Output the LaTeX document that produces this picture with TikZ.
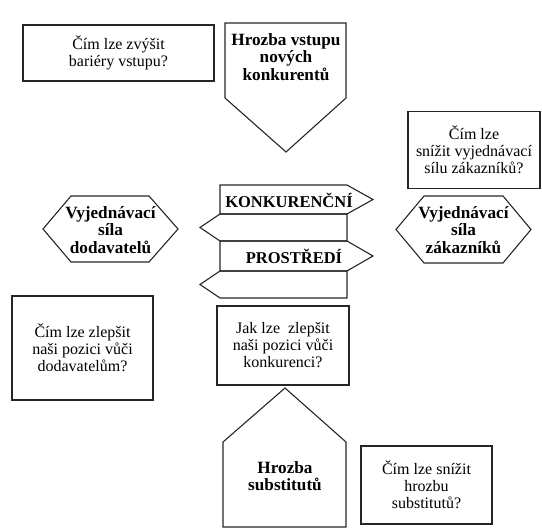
\documentclass[tikz,border=0pt]{standalone}
\usepackage{fontspec}
\setmainfont{Liberation Serif}
\begin{document}
\begin{tikzpicture}[x=1pt,y=-1pt,
  shp/.style={draw=black!85,line width=1.1pt,line join=miter},
  btxt/.style={align=center,inner sep=0pt,font=\fontsize{17.2}{17.5}\selectfont\bfseries},
  stxt/.style={align=center,inner sep=0pt,font=\fontsize{16.5}{17}\selectfont\bfseries},
  box/.style={shp,align=center,inner sep=0pt,font=\fontsize{16}{17}\selectfont}]
\useasboundingbox (0,0) rectangle (542,529);
% boxes
\node[box,minimum width=191pt,minimum height=56pt] (boxA) at (118.5,53) {Čím lze zvýšit\\bariéry vstupu?};
\node[box,minimum width=132pt,minimum height=77pt] (boxB) at (474,150) {Čím lze\\snížit vyjednávací\\sílu zákazníků?};
\node[box,minimum width=141pt,minimum height=104pt] (boxC) at (82.5,348) {Čím lze zlepšit\\naši pozici vůči\\dodavatelům?};
\node[box,minimum width=132pt,minimum height=79pt] (boxD) at (283,345.5) {Jak lze~ zlepšit\\naši pozici vůči\\konkurenci?};
\node[box,minimum width=131pt,minimum height=78pt] (boxE) at (426.5,485) {Čím lze snížit\\hrozbu\\substitutů?};
% threat of new entrants
\draw[shp] (225,23) -- (346,23) -- (346,98) -- (286,152) -- (225,98) -- cycle;
\node[btxt] (entr) at (286,57) {Hrozba vstupu\\nových\\konkurentů};
% substitutes
\draw[shp] (285,388) -- (346,442) -- (346,527) -- (223,527) -- (223,442) -- cycle;
\node[btxt] (subs) at (285,476) {Hrozba\\substitutů};
% suppliers
\draw[shp] (43,229) -- (71,196) -- (149,196) -- (178,229) -- (149,262) -- (71,262) -- cycle;
\node[btxt] (supp) at (110.5,230) {Vyjednávací\\síla\\dodavatelů};
% customers
\draw[shp] (396,229.5) -- (424,196) -- (503,196) -- (531,229.5) -- (503,263) -- (424,263) -- cycle;
\node[btxt] (cust) at (463.5,230) {Vyjednávací\\síla\\zákazníků};
% signposts
\draw[shp] (220,185) -- (347,185) -- (373,199.5) -- (347,214) -- (220,214) -- cycle;
\draw[shp] (220,214) -- (347,214) -- (347,241) -- (220,241) -- (200,227.5) -- cycle;
\draw[shp] (220,241) -- (347,241) -- (373,256) -- (347,271) -- (220,271) -- cycle;
\draw[shp] (220,271) -- (347,271) -- (347,298) -- (220,298) -- (200,284.5) -- cycle;
\node[stxt] (konk) at (289,200) {KONKURENČNÍ};
\node[stxt] (prost) at (294,256.5) {PROSTŘEDÍ};
\end{tikzpicture}
\end{document}
